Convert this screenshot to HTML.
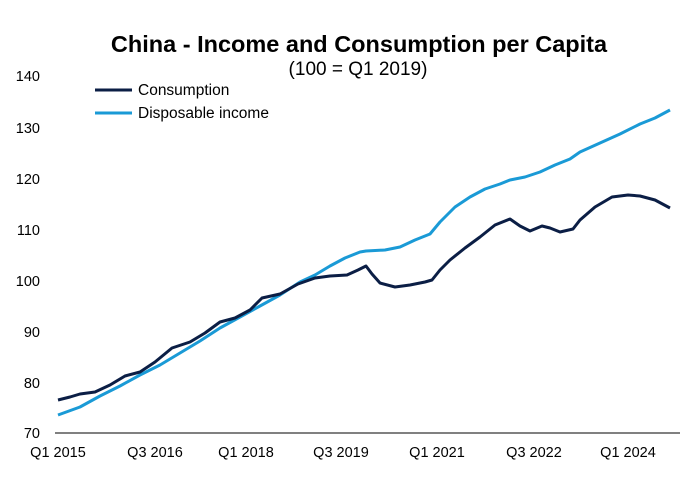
<!DOCTYPE html>
<html><head><style>
html,body{margin:0;padding:0;background:#fff;}
body{width:694px;height:488px;overflow:hidden;font-family:"Liberation Sans",Arial,sans-serif;}
</style></head><body>
<svg width="694" height="488" xmlns="http://www.w3.org/2000/svg" font-family="Liberation Sans, Arial, sans-serif">
<text x="359" y="52" text-anchor="middle" font-size="23.5" font-weight="bold" fill="#000">China - Income and Consumption per Capita</text>
<text x="358" y="75" text-anchor="middle" font-size="19" fill="#000">(100 = Q1 2019)</text>
<g font-size="14.5" fill="#000" text-anchor="end">
<text x="40" y="81">140</text><text x="40" y="133">130</text><text x="40" y="184">120</text>
<text x="40" y="235">110</text><text x="40" y="286">100</text><text x="40" y="337">90</text>
<text x="40" y="388">80</text><text x="40" y="438">70</text>
</g>
<line x1="55" y1="433" x2="680" y2="433" stroke="#000" stroke-width="1"/>
<g font-size="14.5" fill="#000" text-anchor="middle">
<text x="58" y="457">Q1 2015</text><text x="155" y="457">Q3 2016</text><text x="246" y="457">Q1 2018</text>
<text x="341" y="457">Q3 2019</text><text x="437" y="457">Q1 2021</text><text x="534" y="457">Q3 2022</text>
<text x="628" y="457">Q1 2024</text>
</g>
<line x1="95" y1="90" x2="132" y2="90" stroke="#0b1e45" stroke-width="3"/>
<text x="138" y="95" font-size="15.5">Consumption</text>
<line x1="95" y1="113" x2="132" y2="113" stroke="#1a9ad6" stroke-width="3"/>
<text x="138" y="118" font-size="15.5">Disposable income</text>
<polyline fill="none" stroke="#1a9ad6" stroke-width="3" stroke-linejoin="round" points="58,415 80,407 100,396 120,386 140,375 160,365 180,353 200,341 220,328 240,317 260,306 280,295 300,282 315,275 330,266 345,258 360,252 366,251 385,250 400,247 415,240 430,234 440,222 455,207 470,197 485,189 500,184 510,180 525,177 540,172 555,165 570,159 580,152 600,143 620,134 640,124 655,118 670,110"/>
<polyline fill="none" stroke="#0b1e45" stroke-width="3" stroke-linejoin="round" points="58,400 70,397 80,394 95,392 110,385 125,376 140,372 155,362 172,348 190,342 205,333 220,322 235,318 250,310 262,298 280,294 298,284 315,278 330,276 347,275 358,270 366,266 372,274 380,283 395,287 410,285 425,282 432,280 440,270 450,260 465,248 480,237 495,225 510,219 520,226 530,231 542,226 550,228 560,232 573,229 580,220 595,207 612,197 628,195 640,196 655,200 670,208"/>
</svg>
</body></html>
